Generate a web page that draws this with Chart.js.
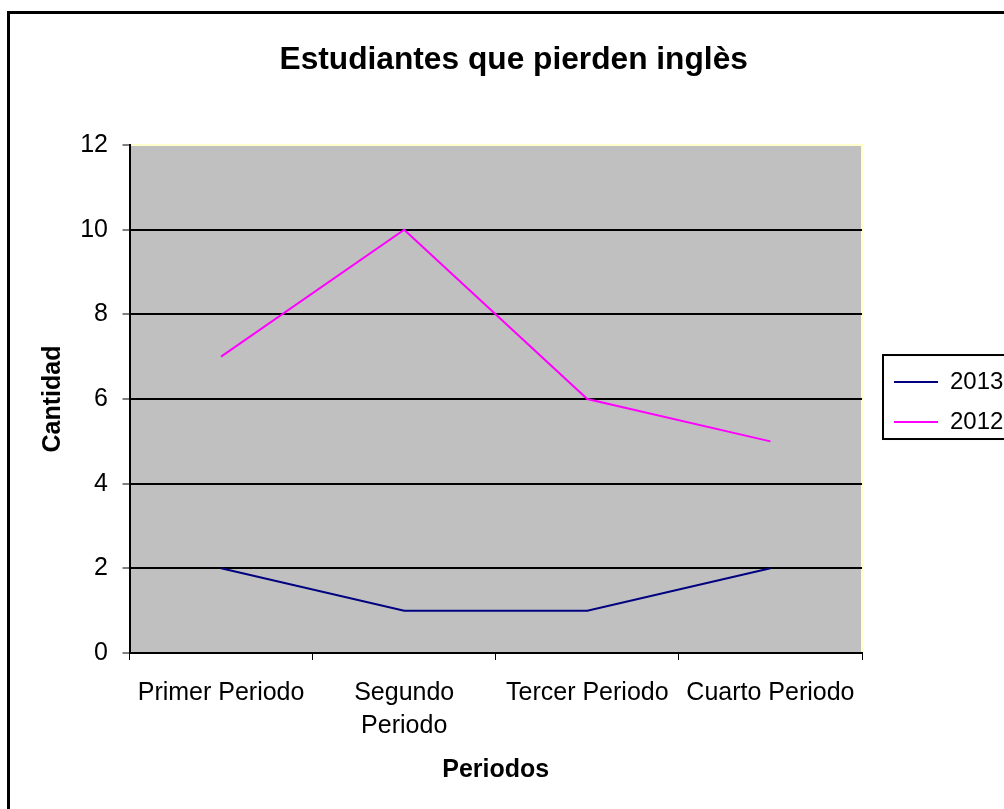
<!DOCTYPE html>
<html>
<head>
<meta charset="utf-8">
<title>Estudiantes que pierden inglès</title>
<script src="https://cdn.jsdelivr.net/npm/chart.js@4.4.1/dist/chart.umd.min.js"></script>
<style>
  html, body { margin: 0; padding: 0; background: #fff; }
  #wrap { width: 1004px; height: 809px; }
</style>
</head>
<body>
<div id="wrap"><canvas id="lineChart"></canvas></div>
<script>
// datos
const periodos = ['Primer Periodo', ['Segundo', 'Periodo'], 'Tercer Periodo', 'Cuarto Periodo'];
const series = ['2013', '2012'];
const datos2013 = [2, 1, 1, 2];
const datos2012 = [7, 10, 6, 5];
const yMin = 0;
const yMax = 12;
const yStep = 2;

const FONT = "'Liberation Sans', Arial, sans-serif";
Chart.defaults.color = '#000';
Chart.defaults.font.family = FONT;

const LEGEND_PAD = 16;

// fondo gris, bordes estilo Excel y caja de la leyenda
const excelLook = {
  id: 'excelLook',
  afterLayout(chart) {
    const lg = chart.legend;
    lg.left += 16; lg.right += 16;
    lg.top += 3; lg.bottom += 3;
  },
  beforeDraw(chart) {
    const {ctx, chartArea: a} = chart;
    ctx.save();
    ctx.fillStyle = '#fff';
    ctx.fillRect(0, 0, chart.width, chart.height);
    ctx.fillStyle = '#c0c0c0';
    ctx.fillRect(a.left, a.top, a.right - a.left, a.bottom - a.top);
    ctx.strokeStyle = '#ffffcc';
    ctx.lineWidth = 2;
    ctx.beginPath();
    ctx.moveTo(a.left, a.top);
    ctx.lineTo(a.right, a.top);
    ctx.lineTo(a.right, a.bottom);
    ctx.stroke();
    ctx.restore();
  },
  afterDraw(chart) {
    const {ctx} = chart;
    const lg = chart.legend;
    const h = lg.columnSizes[0].height;
    const cy = (lg.top + LEGEND_PAD + lg.bottom - h) / 2;
    ctx.save();
    ctx.strokeStyle = '#000';
    ctx.lineWidth = 2;
    ctx.strokeRect(lg.left + 5, cy - 15, 300, h - LEGEND_PAD + 20);
    ctx.lineWidth = 3;
    ctx.strokeRect(8.5, 12.5, 1200, 1000);
    ctx.restore();
  }
};

const ctx = document.getElementById('lineChart').getContext('2d');
new Chart(ctx, {
  type: 'line',
  data: {
    labels: periodos,
    datasets: [
      {
        label: series[0],
        data: datos2013,
        borderColor: '#000080',
        backgroundColor: '#000080',
        borderWidth: 2,
        pointRadius: 0,
        pointStyle: 'line',
        tension: 0
      },
      {
        label: series[1],
        data: datos2012,
        borderColor: '#ff00ff',
        backgroundColor: '#ff00ff',
        borderWidth: 2,
        pointRadius: 0,
        pointStyle: 'line',
        tension: 0
      }
    ]
  },
  options: {
    responsive: true,
    maintainAspectRatio: false,
    animation: false,
    devicePixelRatio: 1,
    layout: {
      padding: {top: 10, left: 30, right: 6.6, bottom: 23.5}
    },
    plugins: {
      title: {
        display: true,
        text: 'Estudiantes que pierden inglès',
        color: '#000',
        font: {size: 31.7, weight: 'bold', lineHeight: 1.2},
        padding: {top: 31.4, bottom: 65.6}
      },
      legend: {
        display: true,
        position: 'right',
        fullSize: false,
        labels: {
          usePointStyle: true,
          pointStyleWidth: 44,
          padding: LEGEND_PAD,
          color: '#000',
          font: {size: 24}
        }
      },
      tooltip: {enabled: false}
    },
    scales: {
      x: {
        offset: true,
        grid: {
          offset: true,
          drawOnChartArea: false,
          drawTicks: true,
          tickLength: 7,
          tickWidth: 1,
          tickColor: '#000',
          color: '#000'
        },
        border: {display: true, color: '#000', width: 2},
        ticks: {
          autoSkip: false,
          maxRotation: 0,
          minRotation: 0,
          padding: 16.5,
          color: '#000',
          font: {size: 25, lineHeight: 1.32}
        },
        title: {
          display: true,
          text: 'Periodos',
          color: '#000',
          font: {size: 25, weight: 'bold', lineHeight: 1.2},
          padding: {top: -3.5, bottom: 0}
        }
      },
      y: {
        min: yMin,
        max: yMax,
        grid: {
          color: (c) => (c.tick && c.tick.value === yMax) ? 'rgba(0,0,0,0)' : '#000',
          lineWidth: 2,
          drawTicks: true,
          tickLength: 7,
          tickWidth: 1,
          tickColor: '#000'
        },
        border: {display: true, color: '#000', width: 2},
        ticks: {
          stepSize: yStep,
          padding: 14.5,
          color: '#000',
          font: {size: 25}
        },
        title: {
          display: true,
          text: 'Cantidad',
          color: '#000',
          font: {size: 25, weight: 'bold', lineHeight: 1.2},
          padding: {top: 8, bottom: -2.3}
        }
      }
    }
  },
  plugins: [excelLook]
});
</script>
</body>
</html>
